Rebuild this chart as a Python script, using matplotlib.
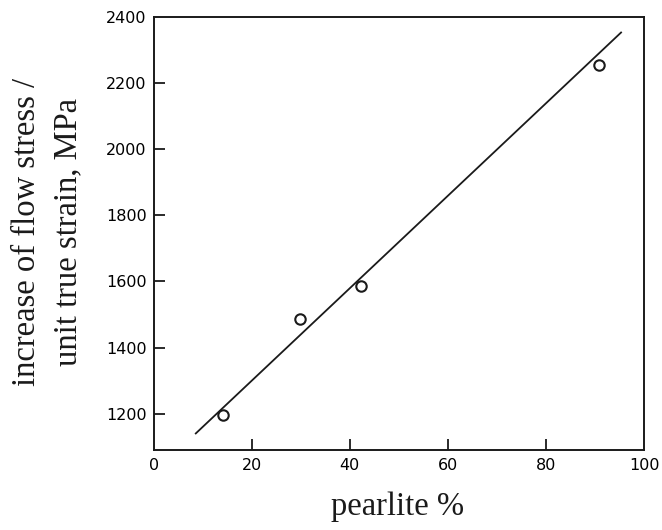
import matplotlib
matplotlib.use("Agg")
import matplotlib.pyplot as plt

# measured points (pearlite %, increase of flow stress per unit true strain)
pearlite = [14.2, 29.8, 42.3, 90.7]
stress = [1197, 1486, 1586, 2256]

# fitted straight line end points as drawn
line_x = [8.6, 95.3]
line_y = [1140, 2353]

x_ticks = [0, 20, 40, 60, 80, 100]
y_ticks = [1200, 1400, 1600, 1800, 2000, 2200, 2400]

fig = plt.figure(figsize=(6.62, 5.30), dpi=100)
ax = fig.add_axes([0.232, 0.151, 0.741, 0.817])

ax.plot(line_x, line_y, color="#1a1a1a", lw=1.3)
ax.plot(pearlite, stress, "o", ms=7.5, mfc="white", mec="#1a1a1a", mew=1.5)

ax.set_xlim(0, 100)
ax.set_ylim(1090, 2400)
ax.set_xticks(x_ticks)
ax.set_yticks(y_ticks)

for s in ax.spines.values():
    s.set_linewidth(1.4)
    s.set_color("#1a1a1a")

ax.tick_params(direction="in", length=8, width=1.3, color="#1a1a1a",
               labelsize=11.5, pad=5, top=False, right=False)
ax.tick_params(axis="x", pad=6)

# no tick marks at the corners
for t in [ax.xaxis.get_major_ticks()[0], ax.xaxis.get_major_ticks()[-1],
          ax.yaxis.get_major_ticks()[-1]]:
    t.tick1line.set_visible(False)

fig.text(0.60, 0.043, "pearlite %", family="Liberation Serif", fontsize=23.5,
         ha="center", va="center", color="#1a1a1a")
fig.text(0.040, 0.562, "increase of flow stress /", family="Liberation Serif",
         fontsize=23.5, rotation=90, ha="center", va="center", color="#1a1a1a")
fig.text(0.103, 0.562, "unit true strain, MPa", family="Liberation Serif",
         fontsize=23.5, rotation=90, ha="center", va="center", color="#1a1a1a")

fig.savefig("out.png", dpi=100)
